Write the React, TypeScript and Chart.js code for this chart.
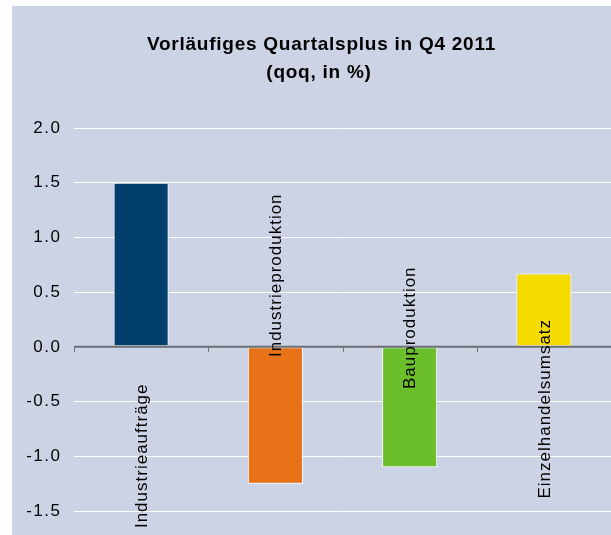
import React, { useEffect, useRef } from "react";
import { Chart, registerables } from "chart.js";

Chart.register(...registerables);

const categories = ["Industrieaufträge", "Industrieproduktion", "Bauproduktion", "Einzelhandelsumsatz"];
const values = [1.5, -1.25, -1.1, 0.67];
const barColors = ["#003F6B", "#E87217", "#6BBF2A", "#F5DB00"];
// vertical centre of each rotated category label, in axis units
const labelCenters = [-1.0, 0.65, 0.17, -0.57];
const titleLines = ["Vorläufiges Quartalsplus in Q4 2011", "(qoq, in %)"];
const yMin = -1.5;
const yMax = 2.0;
const yStep = 0.5;

const FONT = "'Liberation Sans', Arial, sans-serif";

const decorPlugin = {
  id: "decor",
  beforeDraw(chart: any) {
    const ctx = chart.ctx;
    ctx.save();
    ctx.fillStyle = "#ffffff";
    ctx.fillRect(0, 0, chart.width, chart.height);
    ctx.fillStyle = "#CCD3E4";
    ctx.fillRect(12, 6, chart.width - 12, chart.height - 6);
    ctx.restore();
  },
  afterDatasetsDraw(chart: any) {
    const ctx = chart.ctx;
    const x = chart.scales.x;
    const y = chart.scales.y;
    const area = chart.chartArea;
    ctx.save();
    // zero line
    const y0 = y.getPixelForValue(0);
    ctx.strokeStyle = "#6B6E75";
    ctx.lineWidth = 2;
    ctx.beginPath();
    ctx.moveTo(area.left, y0);
    ctx.lineTo(area.right, y0);
    ctx.stroke();
    // category ticks
    ctx.lineWidth = 1;
    const n = categories.length;
    const w = (area.right - area.left) / n;
    for (let i = 0; i <= n; i++) {
      const tx = Math.round(area.left + i * w) + 0.5;
      ctx.beginPath();
      ctx.moveTo(tx, y0);
      ctx.lineTo(tx, y0 + 5);
      ctx.stroke();
    }
    ctx.fillStyle = "#000000";
    // y tick labels
    ctx.font = `17px ${FONT}`;
    (ctx as any).letterSpacing = "1.5px";
    ctx.textAlign = "right";
    ctx.textBaseline = "middle";
    for (let v = yMin; v <= yMax + 1e-9; v += yStep) {
      ctx.fillText(v.toFixed(1), area.left - 14 + 1.5, y.getPixelForValue(v));
    }
    // category labels
    (ctx as any).letterSpacing = "1px";
    ctx.textAlign = "center";
    categories.forEach((c, i) => {
      const cx = x.getPixelForValue(i) + 1;
      const cy = y.getPixelForValue(labelCenters[i]);
      ctx.save();
      ctx.translate(cx, cy);
      ctx.rotate(-Math.PI / 2);
      ctx.fillText(c, 0.5, 0);
      ctx.restore();
    });
    // title
    ctx.font = `bold 19px ${FONT}`;
    (ctx as any).letterSpacing = "0.75px";
    ctx.textBaseline = "alphabetic";
    ctx.fillText(titleLines[0], 321.5, 50);
    ctx.fillText(titleLines[1], 319, 78);
    ctx.restore();
  },
};

export default function App() {
  const ref = useRef<HTMLCanvasElement>(null);
  useEffect(() => {
    document.body.style.margin = "0";
    const chart = new Chart(ref.current!, {
      type: "bar",
      data: {
        labels: categories,
        datasets: [
          {
            data: values,
            backgroundColor: barColors,
            borderColor: "#ffffff",
            borderWidth: 1,
            borderSkipped: false,
            barPercentage: 0.41,
            categoryPercentage: 1,
          },
        ],
      },
      plugins: [decorPlugin],
      options: {
        animation: false,
        responsive: false,
        maintainAspectRatio: false,
        layout: { padding: { left: 12, top: 128, right: 0, bottom: 24 } },
        plugins: { legend: { display: false }, tooltip: { enabled: false }, title: { display: false } },
        scales: {
          x: { display: false },
          y: {
            min: yMin,
            max: yMax,
            border: { display: false },
            grid: { color: "#ffffff", lineWidth: 1, drawTicks: false },
            afterFit(scale: any) {
              scale.width = 62;
            },
            ticks: {
              stepSize: yStep,
              display: false,
            },
          },
        },
      },
    });
    return () => chart.destroy();
  }, []);
  return <canvas ref={ref} width={611} height={535} style={{ display: "block" }} />;
}
